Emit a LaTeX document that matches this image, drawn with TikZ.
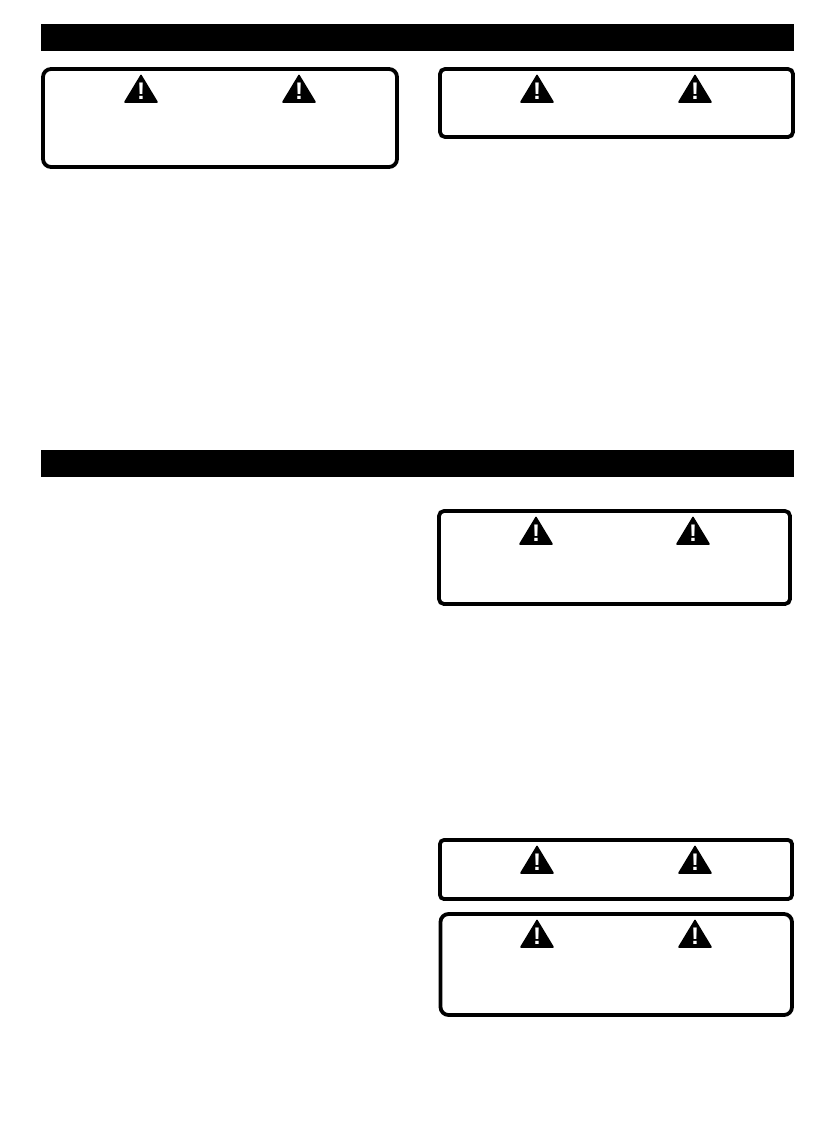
\documentclass[tikz,border=0pt]{standalone}
\usepackage{fontspec}
\setsansfont{Liberation Sans}
\tikzset{
  warnbox/.style={draw,line width=3.8pt},
  warnsign/.style={fill,draw,line width=1.6pt,line join=round},
  warnmark/.style={white,font=\sffamily\bfseries\fontsize{24}{24}\selectfont,inner sep=0pt}
}

\begin{document}
\begin{tikzpicture}[x=1pt,y=-1pt]

            \useasboundingbox (0,0) rectangle (819,1143);

            % headings
            \foreach \y in {24,450}{
              \fill (41,\y) rectangle (794,\y+27);
            }

            % boxes
            \draw[warnbox,rounded corners=8pt] (43,69) rectangle (397,167);
            \draw[warnbox,rounded corners=5pt] (440,69) rectangle (793,137);
            \draw[warnbox,rounded corners=5pt] (439,511) rectangle (790,604);
            \draw[warnbox,rounded corners=4pt] (440,840) rectangle (792,899);
            \draw[warnbox,rounded corners=8pt] (440.5,914) rectangle (792,1015);

            % warning signs
            \foreach \x/\y in {141/74,299/74,537/74,695/74,536/516,693/516,537/845,695/845,537/919,695/919}{
              \draw[warnsign] (\x,\y+1.5) -- (\x+16,\y+28) -- (\x-16,\y+28) -- cycle;
              \node[warnmark] at (\x,\y+17) {!};
            }

        \end{tikzpicture}
\end{document}
